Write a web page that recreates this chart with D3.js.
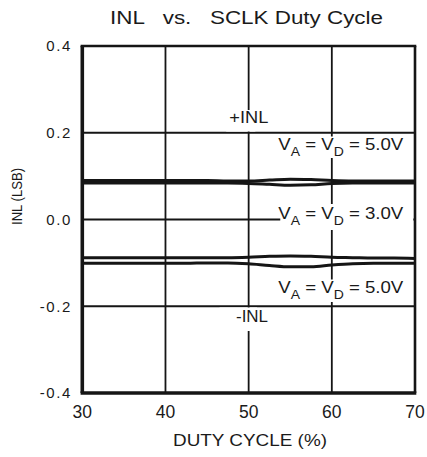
<!DOCTYPE html>
<html>
<head>
<meta charset="utf-8">
<script src="https://cdn.jsdelivr.net/npm/d3@7/dist/d3.min.js"></script>
<style>
  html, body { margin: 0; padding: 0; background: #fff; }
  svg { display: block; }
  text { font-family: "Liberation Sans", Arial, Helvetica, sans-serif; fill: #1a1a1a; }
</style>
</head>
<body>
<div id="chart"></div>
<script>
// ---- data ----
const dutyCycle = [30, 32.5, 35, 37.5, 40, 42.5, 45, 47.5, 50, 52.5, 55, 57.5, 60, 62.5, 65, 67.5, 70];
const posINL5V = [0.090, 0.090, 0.090, 0.090, 0.090, 0.090, 0.090, 0.089, 0.089, 0.091, 0.093, 0.092, 0.090, 0.089, 0.089, 0.089, 0.089];
const posINL3V = [0.084, 0.084, 0.084, 0.084, 0.084, 0.084, 0.084, 0.084, 0.083, 0.081, 0.079, 0.080, 0.083, 0.084, 0.084, 0.084, 0.084];
const negINL3V = [-0.088, -0.088, -0.088, -0.088, -0.088, -0.088, -0.088, -0.088, -0.087, -0.085, -0.084, -0.085, -0.087, -0.088, -0.089, -0.089, -0.090];
const negINL5V = [-0.101, -0.101, -0.101, -0.101, -0.101, -0.101, -0.100, -0.100, -0.102, -0.106, -0.109, -0.109, -0.105, -0.102, -0.101, -0.101, -0.101];
const xTicks = [30, 40, 50, 60, 70];
const xTickLabels = ["30", "40", "50", "60", "70"];
const yTicks = [0.4, 0.2, 0.0, -0.2, -0.4];
const yTickLabels = ["0.4", "0.2", "0.0", "-0.2", "-0.4"];
const titleText = "INL   vs.   SCLK Duty Cycle";
const xLabel = "DUTY CYCLE (%)";
const yLabel = "INL (LSB)";

// ---- drawing ----
const W = 427, H = 457;
const svg = d3.select("#chart").append("svg").attr("width", W).attr("height", H);
const x = d3.scaleLinear().domain([30, 70]).range([82.3, 415]);
const y = d3.scaleLinear().domain([-0.4, 0.4]).range([393, 46]);
const ink = "#151515";

// grid
svg.append("g").selectAll("line.v").data(xTicks.slice(1, -1)).join("line")
  .attr("x1", d => x(d)).attr("x2", d => x(d)).attr("y1", y(0.4)).attr("y2", y(-0.4))
  .attr("stroke", ink).attr("stroke-width", 1.8);
svg.append("g").selectAll("line.h").data(yTicks.slice(1, -1)).join("line")
  .attr("x1", x(30)).attr("x2", x(70)).attr("y1", d => y(d)).attr("y2", d => y(d))
  .attr("stroke", ink).attr("stroke-width", 1.8);

// white boxes behind annotations
const boxes = [
  [x(47.3), 110, x(50.8), 131.5],
  [x(53.8), 136.5, x(69.7), 158],
  [x(53.8), 204, x(69.8), 230],
  [x(53.8), 279.5, x(69.7), 302],
  [x(46.5), 307.5, x(51), 331]
];
svg.append("g").selectAll("rect").data(boxes).join("rect")
  .attr("x", d => d[0]).attr("y", d => d[1])
  .attr("width", d => d[2] - d[0]).attr("height", d => d[3] - d[1])
  .attr("fill", "#fff");

// frame
svg.append("line").attr("x1", x(30) - 1.7).attr("x2", x(70) + 1.3).attr("y1", y(0.4)).attr("y2", y(0.4)).attr("stroke", ink).attr("stroke-width", 2.6);
svg.append("line").attr("x1", x(30) - 1.7).attr("x2", x(70) + 1.3).attr("y1", y(-0.4)).attr("y2", y(-0.4)).attr("stroke", ink).attr("stroke-width", 3.4);
svg.append("line").attr("x1", x(30)).attr("x2", x(30)).attr("y1", y(0.4)).attr("y2", y(-0.4)).attr("stroke", ink).attr("stroke-width", 3.6);
svg.append("line").attr("x1", x(70)).attr("x2", x(70)).attr("y1", y(0.4)).attr("y2", y(-0.4)).attr("stroke", ink).attr("stroke-width", 2.6);

// data lines
const line = d3.line().x((d, i) => x(dutyCycle[i])).y(d => y(d)).curve(d3.curveMonotoneX);
[posINL5V, posINL3V, negINL3V, negINL5V].forEach(s => {
  svg.append("path").datum(s).attr("d", line).attr("fill", "none")
    .attr("stroke", ink).attr("stroke-width", 3);
});

// y ticks
svg.append("g").selectAll("text").data(yTicks).join("text")
  .attr("x", 72).attr("y", d => y(d) + 5.3)
  .attr("text-anchor", "end").attr("font-size", 15).attr("letter-spacing", 1.6)
  .text((d, i) => yTickLabels[i]);

// x ticks
svg.append("g").selectAll("text").data(xTicks).join("text")
  .attr("x", d => x(d)).attr("y", 418)
  .attr("text-anchor", "middle").attr("font-size", 17.5)
  .text((d, i) => xTickLabels[i]);

// title
svg.append("text").attr("x", 110).attr("y", 24).attr("font-size", 17.5)
  .attr("textLength", 273).attr("lengthAdjust", "spacingAndGlyphs")
  .style("white-space", "pre").text(titleText);

// axis labels
svg.append("text").attr("x", 173).attr("y", 446).attr("font-size", 16.5)
  .attr("textLength", 154).attr("lengthAdjust", "spacingAndGlyphs").text(xLabel);
svg.append("text").attr("transform", "translate(21.5,225) rotate(-90)")
  .attr("font-size", 15.5)
  .attr("textLength", 57).attr("lengthAdjust", "spacingAndGlyphs").text(yLabel);

// annotations
function vLabel(x0, base, volt) {
  const t = svg.append("text").attr("x", x0).attr("y", base).attr("font-size", 16)
    .attr("textLength", 125).attr("lengthAdjust", "spacingAndGlyphs");
  t.append("tspan").text("V");
  t.append("tspan").attr("font-size", 12).attr("dy", 6).text("A");
  t.append("tspan").attr("dy", -6).text(" = V");
  t.append("tspan").attr("font-size", 12).attr("dy", 6).text("D");
  t.append("tspan").attr("dy", -6).text(" = " + volt);
  t.style("white-space", "pre");
}
vLabel(278.3, 150, "5.0V");
vLabel(278.3, 219.2, "3.0V");
vLabel(278.3, 293.3, "5.0V");

svg.append("text").attr("x", 229.3).attr("y", 123.3).attr("font-size", 16)
  .attr("textLength", 39).attr("lengthAdjust", "spacingAndGlyphs").text("+INL");
svg.append("text").attr("x", 236).attr("y", 322.3).attr("font-size", 16)
  .attr("textLength", 32).attr("lengthAdjust", "spacingAndGlyphs").text("-INL");
</script>
</body>
</html>
